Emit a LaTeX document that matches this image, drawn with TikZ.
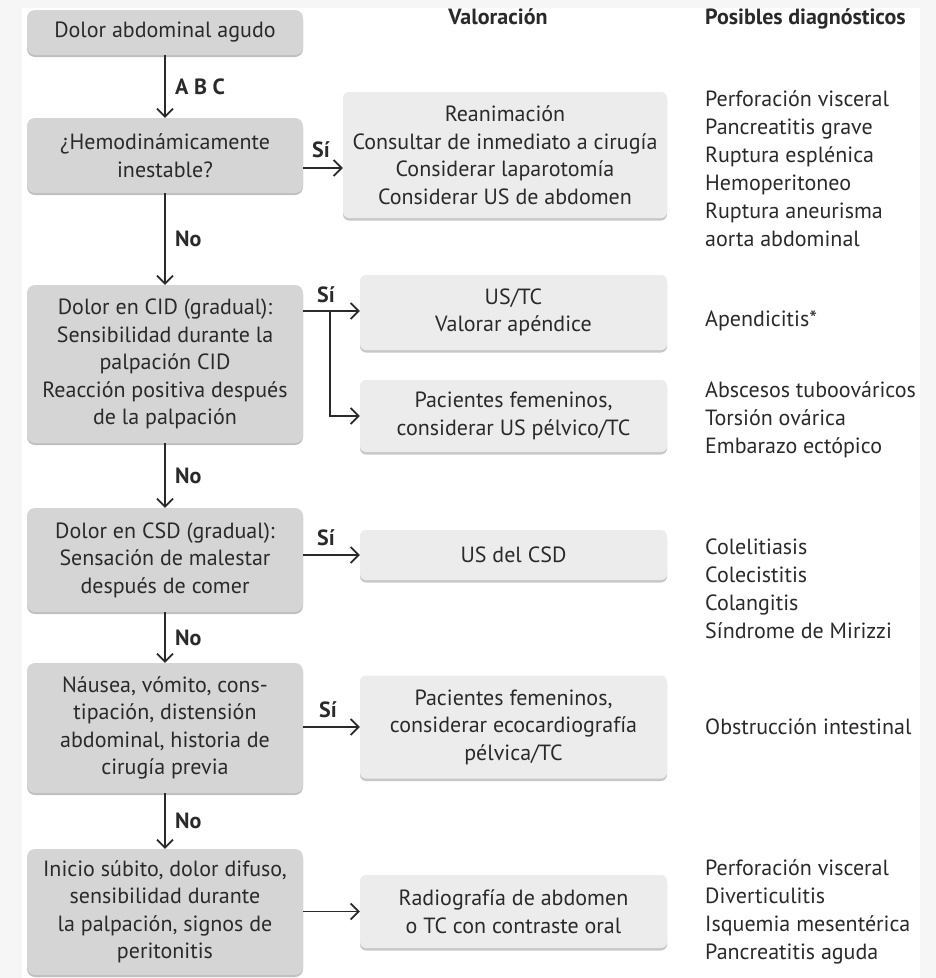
\documentclass[tikz,border=0pt]{standalone}
\usepackage{fontspec}
\setmainfont{PT Sans}
\usetikzlibrary{arrows.meta,shadows}
\definecolor{txt}{HTML}{2A2A2A}
\definecolor{lbox}{HTML}{D5D5D5}
\definecolor{rbox}{HTML}{ECECEC}
\definecolor{bgout}{HTML}{F6F6F6}
\tikzset{
  base/.style={font=\fontsize{22}{27.5}\selectfont, text=txt},
  lstep/.style={base, fill=lbox, rounded corners=8pt, minimum width=276pt, align=center, inner sep=2pt,
     drop shadow={shadow xshift=0pt, shadow yshift=-2pt, opacity=0.25, fill=black}},
  rstep/.style={base, fill=rbox, rounded corners=6pt, minimum width=307pt, align=center, inner sep=2pt,
     drop shadow={shadow xshift=0pt, shadow yshift=-2.5pt, opacity=0.3, fill=black!70}},
  lab/.style={base, font=\fontsize{22}{24}\selectfont\bfseries},
  diag/.style={base, font=\fontsize{22}{28}\selectfont, align=left, anchor=west, inner sep=0pt},
  arr/.style={draw=txt, line width=1.7pt, -{Straight Barb[length=8pt,width=16pt,line width=1.7pt]}},
}
\begin{document}
\begin{tikzpicture}[x=1pt,y=-1pt]
\fill[bgout] (0,0) rectangle (936,978);
\fill[white] (22,8) rectangle (920,978);
\useasboundingbox (0,0) rectangle (936,978);

% left column
\node[lstep, minimum height=45pt] (L1) at (165,32.5) {Dolor abdominal agudo};
\node[lstep, minimum height=75pt] (L2) at (165,155.5) {¿Hemodinámicamente\\inestable?};
\node[lstep, minimum height=158pt] (L3) at (165,364) {Dolor en CID (gradual):\\Sensibilidad durante la\\palpación CID\\Reacción positiva después\\de la palpación};
\node[lstep, minimum height=104pt] (L4) at (165,560) {Dolor en CSD (gradual):\\Sensación de malestar\\después de comer};
\node[lstep, minimum height=130pt] (L5) at (165,728) {Náusea, vómito, cons-\\tipación, distensión\\abdominal, historia de\\cirugía previa};
\node[lstep, minimum height=126pt] (L6) at (165,912) {Inicio súbito, dolor difuso,\\sensibilidad durante\\la palpación, signos de\\peritonitis};

% middle column
\node[rstep, minimum width=324pt, minimum height=126pt] (R1) at (505,155) {Reanimación\\Consultar de inmediato a cirugía\\Considerar laparotomía\\Considerar US de abdomen};
\node[rstep, minimum height=75pt] (R2) at (513.5,312.5) {US/TC\\Valorar apéndice};
\node[rstep, minimum height=72pt] (R3) at (513.5,416) {Pacientes femeninos,\\considerar US pélvico/TC};
\node[rstep, minimum height=50pt] (R4) at (513.5,555) {US del CSD};
\node[rstep, minimum height=103pt] (R5) at (513.5,727) {Pacientes femeninos,\\considerar ecocardiografía\\pélvica/TC};
\node[rstep, minimum height=73pt] (R6) at (513.5,911.5) {Radiografía de abdomen\\o TC con contraste oral};

% headers
\node[lab] (H1) at (498,17) {Valoración};
\node[lab, anchor=west, inner sep=0pt] (H2) at (705,19) {Posibles diagnósticos};

% diagnoses
\node[diag] (D1) at (705,169) {Perforación visceral\\Pancreatitis grave\\Ruptura esplénica\\Hemoperitoneo\\Ruptura aneurisma\\aorta abdominal};
\node[diag] (D2) at (705,321) {Apendicitis*};
\node[diag] (D3) at (705,420) {Abscesos tuboováricos\\Torsión ovárica\\Embarazo ectópico};
\node[diag] (D4) at (705,588.5) {Colelitiasis\\Colecistitis\\Colangitis\\Síndrome de Mirizzi};
\node[diag] (D5) at (705,727) {Obstrucción intestinal};
\node[diag] (D6) at (705,911.5) {Perforación visceral\\Diverticulitis\\Isquemia mesentérica\\Pancreatitis aguda};

% vertical arrows
\draw[arr] (L1.south) -- (L2.north) node[lab, midway, right=6pt] (abc) {A B C};
\draw[arr] (L2.south) -- (L3.north) node[lab, midway, right=6pt] (no1) {No};
\draw[arr] (L3.south) -- (L4.north) node[lab, midway, right=6pt] (no2) {No};
\draw[arr] (L4.south) -- (L5.north) node[lab, midway, right=6pt] (no3) {No};
\draw[arr] (L5.south) -- (L6.north) node[lab, midway, right=6pt] (no4) {No};

% horizontal arrows
\coordinate (a2) at (303,168);
\draw[arr] (a2) -- (a2 -| R1.west);
\node[lab] (s1) at (321,150) {Sí};
\coordinate (a3) at (303,311);
\coordinate (b3) at (330,311);
\draw[arr] (a3) -- (a3 -| R2.west);
\draw[arr] (b3) |- (R3.west);
\node[lab] (s2) at (326,295) {Sí};
\draw[arr] (L4.east |- R4.west) -- (R4.west);
\node[lab] (s3) at (326,538) {Sí};
\draw[arr] (L5.east |- R5.west) -- (R5.west);
\node[lab] (s4) at (328,710) {Sí};
\draw[arr] (L6.east |- R6.west) -- (R6.west);
\end{tikzpicture}
\end{document}
